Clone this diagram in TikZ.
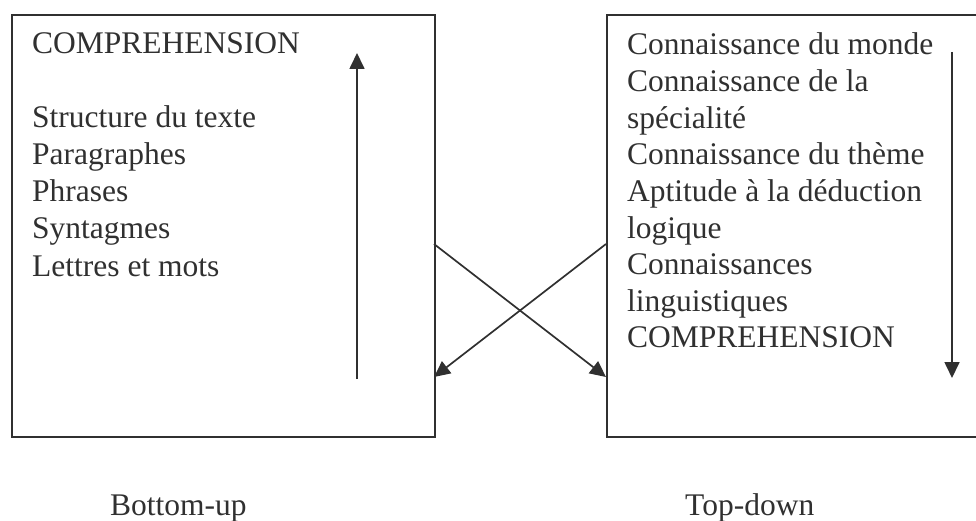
\documentclass[tikz,border=0pt]{standalone}
\usepackage{fontspec}
\setmainfont{Liberation Serif}
\usetikzlibrary{arrows.meta}
\definecolor{ink}{HTML}{303030}
\tikzset{
  box/.style={draw=ink, line width=1.8pt, rectangle, inner sep=0pt, anchor=north west},
  txt/.style={anchor=base west, inner sep=0pt, text=ink, font=\fontsize{31.5}{36.7}\selectfont},
  arr/.style={draw=ink, line width=1.7pt, -{Triangle[length=16pt,width=15pt]}},
}
\begin{document}
\begin{tikzpicture}[x=1pt,y=-1pt]
\useasboundingbox (0,0) rectangle (976,521);
\clip (0,0) rectangle (976,521);
% boxes
\node[box, minimum width=423pt, minimum height=422pt] (L) at (11,14) {};
\node[box, minimum width=380pt, minimum height=422pt] (R) at (606,14) {};
% left text
\node[txt] (l1) at (32,54) {COMPREHENSION};
\node[txt] (l2) at (32,128) {Structure du texte};
\node[txt] (l3) at (32,165) {Paragraphes};
\node[txt] (l4) at (32,202) {Phrases};
\node[txt] (l5) at (32,239) {Syntagmes};
\node[txt] (l6) at (32,276) {Lettres et mots};
% right text
\node[txt] (r1) at (627,55) {Connaissance du monde};
\node[txt] (r2) at (627,91.6) {Connaissance de la};
\node[txt] (r3) at (627,128.2) {spécialité};
\node[txt] (r4) at (627,164.8) {Connaissance du thème};
\node[txt] (r5) at (627,201.4) {Aptitude à la déduction};
\node[txt] (r6) at (627,238) {logique};
\node[txt] (r7) at (627,274.6) {Connaissances};
\node[txt] (r8) at (627,311.2) {linguistiques};
\node[txt] (r9) at (627,347.8) {COMPREHENSION};
% bottom labels
\node[txt] (bu) at (110,515) {Bottom-up};
\node[txt] (td) at (685,515) {Top-down};
% vertical arrows
\coordinate (la0) at (357,379);
\coordinate (la1) at (357,53);
\coordinate (ra0) at (952,52);
\coordinate (ra1) at (952,378);
\draw[arr] (la0) -- (la1);
\draw[arr] (ra0) -- (ra1);
% crossing arrows
\coordinate (c1) at (434,244);
\coordinate (c2) at (606,377);
\coordinate (c3) at (606,244);
\coordinate (c4) at (434,377);
\draw[arr] (c1) -- (c2);
\draw[arr] (c3) -- (c4);
\end{tikzpicture}
\end{document}
